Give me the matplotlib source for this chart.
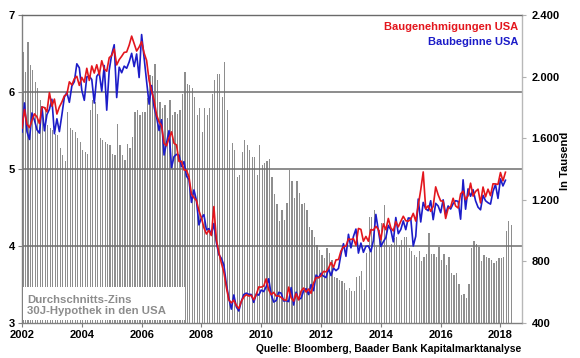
import numpy as np
import matplotlib
matplotlib.use('Agg')
import matplotlib.pyplot as plt
from matplotlib.patches import Rectangle
from matplotlib.ticker import FuncFormatter

plt.rcParams['font.family'] = ['Liberation Sans', 'DejaVu Sans']
plt.rcParams['font.weight'] = 'bold'

START = 2002

# 30J-Hypothekenzins, monatlich ab Jan 2002 (linke Achse, %)
zins = [
    6.52, 6.26, 6.65, 6.35, 6.29, 6.13, 6.05, 5.90, 5.81, 5.80, 5.57, 5.53,
    5.51, 5.46, 5.44, 5.27, 5.18, 5.10, 5.74, 5.53, 5.51, 5.48, 5.40, 5.35,
    5.25, 5.22, 5.20, 5.77, 5.90, 5.87, 5.72, 5.40, 5.38, 5.35, 5.33, 5.31,
    5.20, 5.18, 5.59, 5.31, 5.18, 5.12, 5.33, 5.27, 5.42, 5.74, 5.77, 5.70,
    5.74, 5.74, 5.92, 6.22, 6.21, 6.36, 6.16, 5.87, 5.79, 5.83, 5.66, 5.90,
    5.70, 5.74, 5.71, 5.77, 5.98, 6.26, 6.11, 6.09, 6.05, 5.94, 5.70, 5.79,
    5.48, 5.79, 5.70, 5.79, 5.98, 6.16, 6.24, 6.24, 5.94, 6.39, 5.76, 5.25,
    5.34, 5.25, 4.90, 4.92, 5.22, 5.38, 5.31, 5.25, 5.16, 5.16, 4.92, 5.31,
    5.05, 5.08, 5.11, 5.13, 4.90, 4.68, 4.55, 4.32, 4.47, 4.34, 4.56, 4.99,
    4.84, 4.62, 4.84, 4.69, 4.55, 4.56, 4.47, 4.25, 4.21, 4.12, 4.01, 3.95,
    3.88, 3.84, 3.97, 3.91, 3.82, 3.60, 3.58, 3.56, 3.54, 3.52, 3.43, 3.45,
    3.41, 3.41, 3.60, 3.61, 3.67, 3.43, 3.91, 4.38, 4.38, 4.47, 3.99, 4.21,
    4.30, 4.53, 4.27, 3.99, 4.03, 4.10, 4.12, 4.01, 4.08, 4.12, 4.12, 3.97,
    3.93, 3.88, 3.86, 3.93, 3.80, 3.86, 3.90, 4.17, 3.90, 3.90, 3.86, 3.99,
    3.82, 3.90, 3.75, 3.86, 3.65, 3.62, 3.65, 3.51, 3.36, 3.38, 3.32, 3.51,
    3.97, 4.06, 4.03, 3.99, 3.80, 3.88, 3.86, 3.84, 3.82, 3.78, 3.80, 3.84,
    3.84, 3.86, 4.19, 4.32, 4.27,
]

# Baugenehmigungen USA, Tsd. (rechte Achse)
genehmigungen = [
    1665, 1787, 1691, 1669, 1716, 1758, 1738, 1695, 1803, 1799, 1771, 1896,
    1808, 1854, 1757, 1803, 1835, 1875, 1885, 1966, 1946, 1986, 2002, 1943,
    1995, 1964, 2054, 1975, 2069, 2023, 2077, 2013, 2103, 2049, 2035, 2123,
    2137, 2179, 2076, 2110, 2132, 2157, 2160, 2204, 2263, 2215, 2166, 2192,
    2227, 2153, 2105, 1975, 1908, 1847, 1752, 1706, 1681, 1567, 1551, 1600,
    1641, 1567, 1556, 1449, 1450, 1394, 1392, 1349, 1237, 1213, 1195, 1129,
    1083, 1019, 978, 1001, 968, 1156, 940, 858, 789, 730, 632, 550,
    531, 548, 514, 494, 540, 569, 584, 575, 580, 551, 584, 634,
    633, 640, 687, 615, 584, 599, 575, 576, 566, 551, 547, 633,
    564, 542, 590, 550, 607, 627, 601, 621, 593, 660, 695, 694,
    706, 735, 732, 756, 793, 762, 810, 812, 868, 895, 899, 946,
    942, 948, 904, 1014, 1008, 931, 962, 931, 1007, 1003, 1028, 1008,
    941, 1044, 1006, 1079, 1018, 998, 1059, 1024, 1060, 1093, 1064, 1061,
    1074, 1112, 1062, 1162, 1264, 1381, 1141, 1161, 1125, 1157, 1284, 1232,
    1193, 1191, 1079, 1144, 1154, 1210, 1160, 1147, 1238, 1256, 1201, 1226,
    1308, 1224, 1254, 1269, 1180, 1283, 1219, 1269, 1227, 1304, 1303, 1300,
    1377, 1323, 1379,
]

# Baubeginne USA, Tsd. (rechte Achse)
baubeginne = [
    1640, 1829, 1642, 1592, 1764, 1717, 1655, 1633, 1804, 1648, 1753, 1788,
    1853, 1629, 1726, 1643, 1751, 1867, 1897, 1833, 1939, 1967, 2083, 2057,
    1911, 1846, 1998, 2003, 1981, 1828, 2002, 2024, 1905, 2072, 1782, 2042,
    2144, 2207, 1864, 2061, 2025, 2068, 2054, 2095, 2151, 2065, 2147, 1994,
    2273, 2119, 1969, 1821, 1942, 1802, 1737, 1650, 1720, 1491, 1570, 1649,
    1409, 1480, 1495, 1490, 1415, 1448, 1354, 1330, 1183, 1264, 1197, 1037,
    1084, 1103, 1005, 1013, 973, 1046, 923, 844, 820, 777, 652, 560,
    490, 582, 505, 478, 540, 585, 594, 586, 585, 534, 588, 581,
    614, 604, 636, 687, 583, 536, 546, 599, 594, 543, 545, 539,
    630, 517, 600, 554, 561, 608, 623, 585, 650, 610, 711, 694,
    723, 704, 695, 753, 708, 757, 740, 754, 847, 915, 833, 976,
    888, 962, 1010, 854, 919, 859, 898, 900, 863, 936, 1105, 1003,
    897, 928, 954, 1034, 1005, 927, 1085, 980, 1007, 1063, 1006, 1082,
    1080, 900, 963, 1205, 1056, 1183, 1141, 1129, 1194, 1071, 1177, 1160,
    1116, 1200, 1106, 1160, 1140, 1175, 1194, 1190, 1074, 1330, 1139, 1271,
    1223, 1266, 1194, 1152, 1135, 1229, 1194, 1181, 1172, 1255, 1299, 1209,
    1336, 1290, 1327,
]

zins_ticks = [3, 4, 5, 6, 7]
tsd_ticks = [400, 800, 1200, 1600, 2000, 2400]
jahre = list(range(2002, 2019, 2))

RED = '#e3161d'
BLUE = '#1c1cc8'
GRAY = '#8e8e8e'

fig = plt.figure(figsize=(5.8, 3.58), dpi=100)
ax = fig.add_axes([22 / 580, 1 - 323 / 358, 500 / 580, 308 / 358])

x_bar = START + np.arange(len(zins)) / 12 + 0.03
ax.bar(x_bar, np.array(zins) - 3, bottom=3, width=0.042, color=GRAY,
       linewidth=0, zorder=1)
for v in zins_ticks[1:-1]:
    ax.axhline(v, color='#6e6e6e', lw=1.1, zorder=2)

ax.set_xlim(2002, 2018.72)
ax.set_ylim(3, 7)
ax.set_yticks(zins_ticks)
ax.set_xticks(jahre)
ax.tick_params(axis='both', labelsize=8, length=3, width=0.8,
               color='#808080', pad=2)
ax.tick_params(axis='x', pad=2)
for side, col in [('left', '#808080'), ('bottom', '#808080'),
                  ('top', '#6a6a6a'), ('right', '#b8b8b8')]:
    ax.spines[side].set_color(col)
    ax.spines[side].set_linewidth(1.0)

# Infobox unten links
ax.add_patch(Rectangle((2002.03, 3.04), 5.42, 0.43, facecolor='white',
                       edgecolor='none', zorder=4))
ax.text(2002.17, 3.09, 'Durchschnitts-Zins\n30J-Hypothek in den USA',
        color='#8c8c8c', fontsize=8.2, fontweight='bold', va='bottom',
        ha='left', linespacing=1.15, zorder=5)

ax2 = ax.twinx()
x_line = START + np.arange(len(genehmigungen)) / 12
ax2.plot(x_line, baubeginne, color=BLUE, lw=1.2, zorder=3)
ax2.plot(x_line, genehmigungen, color=RED, lw=1.2, zorder=3)
ax2.set_ylim(400, 2400)
ax2.set_yticks(tsd_ticks)
ax2.yaxis.set_major_formatter(
    FuncFormatter(lambda v, p: f'{int(v):,}'.replace(',', '.')))
ax2.tick_params(axis='y', labelsize=8, length=3, width=0.8,
                color='#b0b0b0', pad=4)
for s in ax2.spines.values():
    s.set_visible(False)

fig.text(518 / 580, 1 - 27 / 358, 'Baugenehmigungen USA', color=RED,
         fontsize=8, fontweight='bold', ha='right', va='center')
fig.text(518 / 580, 1 - 42 / 358, 'Baubeginne USA', color=BLUE,
         fontsize=8, fontweight='bold', ha='right', va='center')
fig.text(565 / 580, 1 - 161 / 358, 'In Tausend', rotation=90, fontsize=8,
         fontweight='bold', ha='center', va='center')
fig.text(521 / 580, 1 - 349.5 / 358,
         'Quelle: Bloomberg, Baader Bank Kapitalmarktanalyse',
         fontsize=7.4, fontweight='bold', ha='right', va='center')

fig.savefig('out.png', dpi=100)
